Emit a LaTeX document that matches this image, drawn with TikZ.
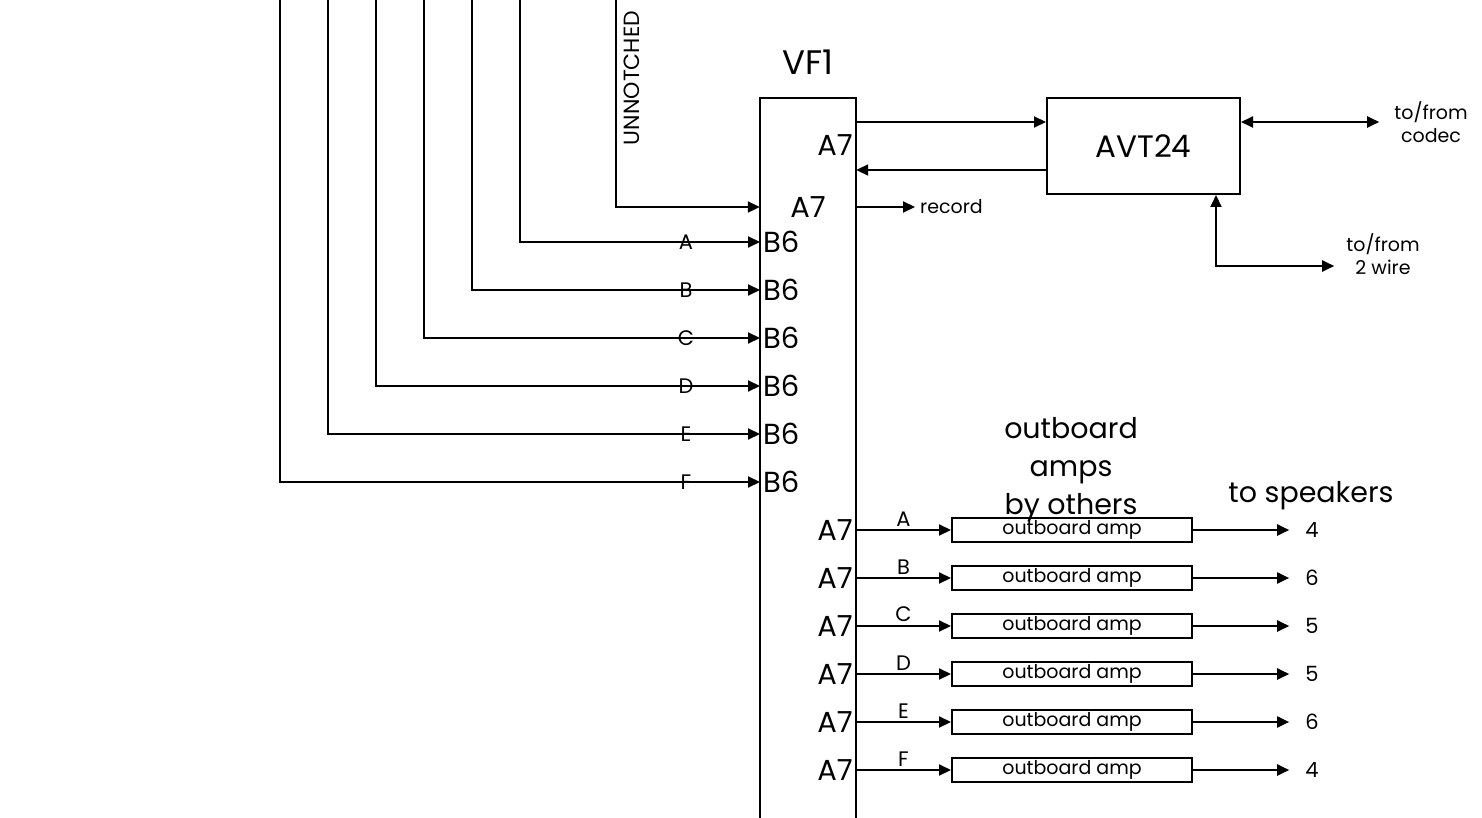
\documentclass[tikz,border=0pt]{standalone}
\usepackage{fontspec}
\setmainfont{Poppins}
\usetikzlibrary{arrows.meta, positioning}

\tikzset{
  wire/.style={line width=2pt},
  sig/.style={wire, -{Triangle[length=12pt,width=11pt]}},
  both/.style={wire, {Triangle[length=12pt,width=11pt]}-{Triangle[length=12pt,width=11pt]}},
  port/.style={inner sep=3pt, font=\fontsize{29}{31}\selectfont},
  tag/.style={inner sep=2pt, font=\fontsize{21}{23}\selectfont},
  note/.style={align=center, inner sep=0pt, font=\fontsize{19}{23}\selectfont},
  amp/.style={draw, wire, minimum width=240pt, minimum height=24pt, inner sep=0pt, font=\fontsize{19}{21}\selectfont},
}

\begin{document}
\begin{tikzpicture}[x=1pt,y=-1pt]
\useasboundingbox (0,0) rectangle (1482,818);

% VF1 frame, runs off the bottom
\node[minimum width=96pt, minimum height=720pt, inner sep=0pt] (vf1) at (808,458) {};
\draw[wire] (vf1.south west) -- (vf1.north west) -- (vf1.north east) -- (vf1.south east);
\node[port, font=\fontsize{34}{36}\selectfont] (vf1name) at (808,62) {VF1};
\node[port, anchor=east] (a7out) at (856,145) {A7};
\node[port] (a7in) at (808,207) {A7};

% hybrid
\node[draw, wire, port, font=\fontsize{31}{33}\selectfont, minimum width=193pt, minimum height=96pt] (avt) at (1143.5,146) {AVT24};
\coordinate (avtin) at ([yshift=24pt]avt.west);
\coordinate (avtout) at ([yshift=-24pt]avt.west);
\draw[sig] (vf1.east |- avtin) -- (avtin);
\draw[sig] (avtout) -- (vf1.east |- avtout);

\node[note] (codec) at (1431,122) {to/from\\codec};
\draw[both] (avt.east |- avtin) -- ([xshift=-15pt]codec.west);

\node[note] (wire2) at (1383,254) {to/from\\2 wire};
\coordinate (tap) at ([xshift=72.5pt]avt.south);
\draw[both] (tap) |- ([xshift=-12pt,yshift=-12pt]wire2.west);

\node[note, anchor=west, inner xsep=5pt] (rec) at (915,207) {record};
\draw[sig] (vf1.east |- rec.west) -- (rec.west);

% unnotched feed
\coordinate (feedU) at (616,0);
\node[tag, rotate=90, font=\fontsize{22}{24}\selectfont] (unnotch) at (632,78) {UNNOTCHED};
\draw[sig] (feedU) |- (vf1.west |- a7in);

% zone feeds
\foreach \i/\ch/\xv in {0/A/520,1/B/472,2/C/424,3/D/376,4/E/328,5/F/280} {
  \pgfmathsetmacro{\yv}{242+48*\i}
  \coordinate (feed\ch) at (\xv,0);
  \node[port, anchor=west] (b6\ch) at (760,\yv) {B6};
  \node[tag] (lbl\ch) at (686,\yv) {\ch};
  \draw[sig] (feed\ch) |- (b6\ch.west);
}

% amps
\node[note, font=\fontsize{28.5}{38}\selectfont] (ampnote) at (1071,470) {outboard\\amps\\by others};
\node[note, font=\fontsize{28.5}{30}\selectfont] (spknote) at (1311,496) {to speakers};

\foreach \i/\ch/\n in {0/A/4,1/B/6,2/C/5,3/D/5,4/E/6,5/F/4} {
  \pgfmathsetmacro{\yv}{530+48*\i}
  \node[port, anchor=east] (a7\ch) at (856,\yv) {A7};
  \node[amp] (amp\ch) at (1072,\yv) {outboard amp};
  \node[tag, inner sep=0pt] (spk\ch) at (1312,\yv) {\n};
  \draw[sig] (a7\ch.east) -- node[tag, above=1pt] {\ch} (amp\ch.west);
  \draw[sig, shorten >=16pt] (amp\ch.east) -- (spk\ch);
}
\end{tikzpicture}
\end{document}
